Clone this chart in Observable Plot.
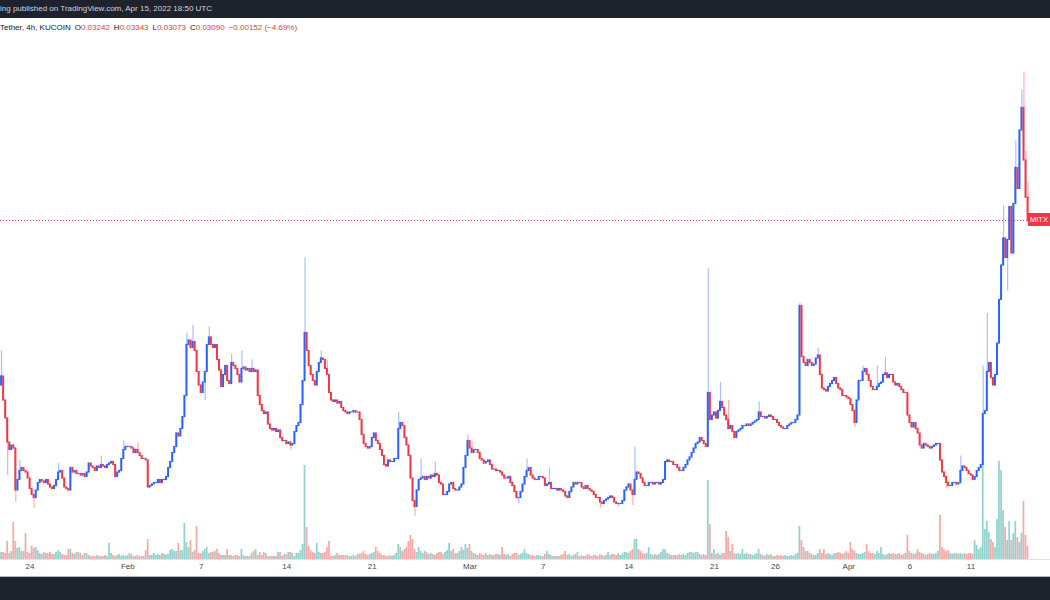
<!DOCTYPE html>
<html><head><meta charset="utf-8">
<script src="https://cdn.jsdelivr.net/npm/d3@7"></script>
<script src="https://cdn.jsdelivr.net/npm/@observablehq/plot@0.6"></script>
<style>
html,body{margin:0;padding:0;background:#fff;}
body{width:1050px;height:600px;overflow:hidden;position:relative;font-family:"Liberation Sans",Arial,sans-serif;}
#topbar{position:absolute;left:0;top:0;width:1050px;height:18px;background:#1e222d;color:#d1d4dc;font-size:8px;line-height:18px;white-space:nowrap;}
#info{position:absolute;left:0;top:22px;height:11px;font-size:8px;line-height:11px;white-space:nowrap;color:#131722;display:flex;gap:4px;}
#info .v{color:#f23645;}
#chart{position:absolute;left:0;top:18px;width:1050px;height:559px;}
#chart svg{position:absolute;left:0;top:0;}
#sep1{position:absolute;left:0;top:559px;width:1050px;height:1px;background:#e0e3eb;}
#sep2{position:absolute;left:0;top:576px;width:1050px;height:1px;background:#b2b5be;}
#bottombar{position:absolute;left:0;top:577px;width:1050px;height:23px;background:#1e222d;}
#tag{position:absolute;left:1028px;top:213px;width:22px;height:13px;box-sizing:border-box;padding-left:2px;background:#f23645;color:#fff;font-size:7.5px;line-height:13px;white-space:nowrap;}
</style></head>
<body>
<div id="topbar">ing published on TradingView.com, Apr 15, 2022 18:50 UTC</div>
<div id="info"><span>Tether, 4h, KUCOIN</span><span>O<span class="v">0.03242</span></span><span>H<span class="v">0.03343</span></span><span>L<span class="v">0.03073</span></span><span>C<span class="v">0.03090</span></span><span class="v">−0.00152 (−4.69%)</span></div>
<div id="chart"></div>
<div id="sep1"></div>
<div id="sep2"></div>
<div id="bottombar"></div>
<div id="tag">MITX</div>
<script>
// ---- data (prices in units of 0.0001 USDT, 4h candles from 2022-01-21 16:00 UTC) ----
const firstCandle = "2022-01-21T16:00Z";
const firstOpenE4 = 199;
const closeE4 = [
205,189, // Jan 21 (16h, 20h)
177,161,156,159,157,129, // Jan 22
136,142,144,142,141,137, // Jan 23
130,126,124,129,134,136, // Jan 24
135,134,136,133,131,130, // Jan 25
132,136,141,142,137,131, // Jan 26
130,129,144,141,142,140, // Jan 27
140,139,140,138,141,147, // Jan 28
145,144,142,145,144,146, // Jan 29
145,144,146,147,148,146, // Jan 30
138,141,142,150,156,158, // Jan 31
158,158,157,154,156,154, // Feb 1
152,150,150,149,131,132, // Feb 2
133,134,134,136,134,136, // Feb 3
136,138,144,148,154,158, // Feb 4
167,165,170,178,192,226, // Feb 5
229,224,228,222,208,199, // Feb 6
194,201,208,226,231,226, // Feb 7
224,226,216,209,198,206, // Feb 8
212,202,200,214,212,210, // Feb 9
206,201,210,211,209,210, // Feb 10
208,210,208,209,192,186, // Feb 11
182,180,181,173,170,169, // Feb 12
170,168,169,164,162,162, // Feb 13
160,161,159,160,168,172, // Feb 14
174,186,202,234,222,212, // Feb 15
206,202,199,208,214,217, // Feb 16
216,210,206,194,189,188, // Feb 17
189,187,188,184,182,181, // Feb 18
180,181,181,182,181,181, // Feb 19
176,166,160,158,157,158, // Feb 20
164,167,162,160,156,152, // Feb 21
146,145,149,148,148,150, // Feb 22
150,170,174,172,164,159, // Feb 23
152,137,122,118,129,136, // Feb 24
137,138,136,138,137,139, // Feb 25
138,140,139,134,133,126, // Feb 26
126,128,133,134,130,129, // Feb 27
129,131,133,144,152,162, // Feb 28
157,154,156,156,154,150, // Mar 1
149,147,148,149,146,143, // Mar 2
143,142,142,141,139,137, // Mar 3
137,138,134,132,128,124, // Mar 4
124,128,133,138,142,144, // Mar 5
139,137,136,136,138,138, // Mar 6
137,132,133,134,130,130, // Mar 7
130,129,130,129,128,125, // Mar 8
124,128,131,134,133,134, // Mar 9
134,131,130,132,130,129, // Mar 10
128,126,124,124,121,120, // Mar 11
122,123,124,125,124,121, // Mar 12
120,120,120,122,129,131, // Mar 13
133,129,126,136,141,140, // Mar 14
137,134,132,132,134,134, // Mar 15
133,134,134,133,134,136, // Mar 16
148,149,148,148,146,146, // Mar 17
144,142,142,144,146,149, // Mar 18
151,154,157,160,161,164, // Mar 19
162,160,158,194,176,179, // Mar 20
181,177,182,188,184,179, // Mar 21
176,170,172,168,164,168, // Mar 22
169,170,172,172,173,172, // Mar 23
173,174,175,176,181,178, // Mar 24
178,177,178,179,178,176, // Mar 25
176,174,172,171,170,170, // Mar 26
172,173,174,174,176,179, // Mar 27
252,218,214,212,216,214, // Mar 28
212,213,217,219,206,197, // Mar 29
196,195,198,200,202,204, // Mar 30
200,197,196,192,192,191, // Mar 31
190,186,182,174,189,202, // Apr 1
202,208,210,206,202,198, // Apr 2
196,196,198,200,201,206, // Apr 3
207,204,206,206,201,199, // Apr 4
200,198,196,194,194,179, // Apr 5
174,171,174,170,167,159, // Apr 6
157,160,159,158,157,158, // Apr 7
159,160,160,149,141,138, // Apr 8
134,132,132,134,134,133, // Apr 9
134,142,145,144,142,140, // Apr 10
139,136,138,142,144,146, // Apr 11
180,182,208,214,204,199, // Apr 12
206,227,256,279,297,284, // Apr 13
296,318,287,320,344,330, // Apr 14
369,384,349,324.2,309 // Apr 15
];
// volume (thousand MITX, estimated)
const volumeK = [
7,7,
6,18,6,8,37,18,
11,12,8,8,26,7,
6,13,11,12,9,6,
5,7,6,6,7,5,
5,7,9,7,5,4,
4,10,10,6,5,7,
7,6,4,6,6,4,
3,3,3,4,3,3,
3,4,3,16,6,4,
3,4,5,3,4,3,
4,6,5,3,3,4,
3,3,3,9,20,4,
4,6,4,5,4,6,
5,4,5,9,10,8,
8,16,9,9,36,17,
12,19,7,9,33,6,
6,8,10,12,6,7,
7,8,10,6,4,4,
4,10,4,4,3,4,
4,3,10,4,3,3,
3,6,8,10,4,7,
4,7,6,3,3,3,
3,3,7,7,3,5,
5,7,7,6,3,6,
6,9,15,94,32,13,
9,7,6,16,7,6,
6,7,12,18,3,3,
4,6,4,4,4,4,
4,3,3,4,3,5,
5,6,8,5,4,5,
6,7,12,8,6,4,
4,3,3,4,3,4,
6,15,12,8,10,12,
18,24,20,10,7,12,
8,6,8,7,5,6,
5,4,6,7,7,5,
7,9,16,8,10,6,
6,8,12,9,15,11,
15,8,6,5,4,6,
5,4,6,4,5,4,
4,5,5,4,12,5,
4,5,3,5,6,6,
4,5,6,10,6,5,
4,4,3,4,4,3,
3,5,8,5,4,3,
3,3,3,4,5,8,
4,5,3,4,5,7,
3,4,3,3,5,4,
3,4,4,3,5,4,
3,4,7,4,5,5,
4,6,4,5,7,7,
6,8,10,20,20,10,
8,6,5,6,12,5,
4,5,4,5,7,10,
10,6,5,4,4,4,
4,5,4,5,4,6,
7,7,6,7,7,5,
4,5,4,79,35,6,
10,5,6,4,6,6,
28,22,8,15,6,5,
6,5,10,5,6,5,
5,4,5,6,10,5,
4,3,5,4,5,3,
3,4,3,4,3,4,
3,3,4,3,5,6,
33,19,12,8,8,6,
5,4,4,6,10,6,
10,5,6,5,4,6,
6,7,6,5,6,8,
6,17,10,8,6,5,
5,6,7,15,8,6,
6,5,8,6,12,5,
4,5,6,5,6,5,
5,6,4,5,6,24,
8,6,5,6,10,7,
6,5,4,5,6,5,
5,6,8,44,12,10,
8,9,6,5,6,6,
5,6,5,6,5,6,
6,5,19,14,10,12,
99,30,38,27,20,17,
12,40,98,89,49,32,
19,38,19,26,38,22,
17,26,58,24,13
];
// wick extremes (units of 0.0001)
const wickTimes = ["2022-01-21T16:00Z","2022-01-22T04:00Z","2022-01-22T20:00Z","2022-01-23T04:00Z","2022-01-24T08:00Z","2022-01-26T08:00Z","2022-01-29T20:00Z","2022-01-31T16:00Z","2022-02-01T20:00Z","2022-02-05T20:00Z","2022-02-06T08:00Z","2022-02-07T08:00Z","2022-02-07T16:00Z","2022-02-09T12:00Z","2022-02-10T08:00Z","2022-02-11T04:00Z","2022-02-14T08:00Z","2022-02-15T12:00Z","2022-02-16T20:00Z","2022-02-17T08:00Z","2022-02-23T04:00Z","2022-02-24T12:00Z","2022-02-25T00:00Z","2022-02-26T04:00Z","2022-02-28T20:00Z","2022-03-01T04:00Z","2022-03-05T00:00Z","2022-03-05T16:00Z","2022-03-07T12:00Z","2022-03-11T16:00Z","2022-03-13T04:00Z","2022-03-14T08:00Z","2022-03-14T12:00Z","2022-03-20T12:00Z","2022-03-21T12:00Z","2022-03-22T04:00Z","2022-03-24T16:00Z","2022-03-28T00:00Z","2022-03-29T12:00Z","2022-04-01T12:00Z","2022-04-02T04:00Z","2022-04-03T08:00Z","2022-04-04T00:00Z","2022-04-09T00:00Z","2022-04-10T04:00Z","2022-04-12T00:00Z","2022-04-12T08:00Z","2022-04-13T16:00Z","2022-04-14T00:00Z","2022-04-14T16:00Z","2022-04-15T04:00Z","2022-04-15T08:00Z","2022-04-15T12:00Z","2022-04-15T16:00Z"];
const wickHighs = [222,null,null,149,null,147,152,162,161,234,239,null,238,220,222,216,null,284,222,216,181,null,150,148,166,162,null,150,144,null,null,null,158,277,201,189,188,254,224,null,212,212,218,null,152,212,247,319,null,362,396,408,355,334.3];
const wickLows  = [null,139,121,null,117,null,null,null,null,null,null,189,null,null,null,null,156,null,null,null,null,112,null,null,null,null,120,null,null,117,118,119,null,null,null,null,null,null,null,171,null,null,null,130,null,null,null,null,262,null,null,null,null,307.3];
const tickDates = ["2022-01-24","2022-02-01","2022-02-07","2022-02-14","2022-02-21","2022-03-01","2022-03-07","2022-03-14","2022-03-21","2022-03-26","2022-04-01","2022-04-06","2022-04-11"];
const tickLabels = ["24","Feb","7","14","21","Mar","7","14","21","26","Apr","6","11"];

// ---- build candles ----
const HOUR = 3600e3, DAY = 24*HOUR;
const t0 = Date.parse(firstCandle);
const wickMap = new Map(wickTimes.map((t,i)=>[Date.parse(t), i]));
const candles = closeE4.map((c,i)=>{
  const t = t0 + i*4*HOUR;
  const o = i===0 ? firstOpenE4 : closeE4[i-1];
  let h = Math.max(o,c), l = Math.min(o,c);
  const w = wickMap.get(t);
  if (w !== undefined) {
    if (wickHighs[w] != null) h = Math.max(h, wickHighs[w]);
    if (wickLows[w] != null) l = Math.min(l, wickLows[w]);
  }
  return {t:new Date(t), o:o/1e4, c:c/1e4, h:h/1e4, l:l/1e4, v:volumeK[i] ?? 0, up: c>=o};
});
const lastClose = closeE4[closeE4.length-1]/1e4;

// ---- scales ----
const W = 1050, H = 559, MB = 18;
const pxPerDay = 12.22, anchor = Date.parse("2022-04-11"), anchorX = 970.5;
const xDomain = [new Date(anchor - anchorX/pxPerDay*DAY), new Date(anchor + (W-anchorX)/pxPerDay*DAY)];
const priceDomain = [0.0083, 0.0443667];
const style = {background:"transparent", fontFamily:"Liberation Sans, Arial, sans-serif", overflow:"visible"};
const halfBody = 1.9*HOUR, halfVol = 1.7*HOUR;

const volPlot = Plot.plot({
  width: W, height: H, marginTop: H-MB-100, marginBottom: MB, marginLeft: 0, marginRight: 0,
  style,
  x: {type:"utc", domain: xDomain, axis: null},
  y: {domain: [0, 100], axis: null},
  color: {type: "identity"},
  marks: [
    Plot.rect(candles, {x1: d=>new Date(+d.t-halfVol), x2: d=>new Date(+d.t+halfVol), y1: 0, y2: "v",
      fill: d=>d.up ? "rgba(38,166,154,0.5)" : "rgba(239,83,80,0.5)"}),
    Plot.text(tickDates.map(d=>new Date(d)), {x: d=>d, text: (d,i)=>tickLabels[i], frameAnchor: "bottom",
      dy: 9, fontSize: 8, fill: "#434651"})
  ]
});

const pricePlot = Plot.plot({
  width: W, height: H, marginTop: 0, marginBottom: MB, marginLeft: 0, marginRight: 0,
  style,
  x: {type:"utc", domain: xDomain, axis: null},
  y: {domain: priceDomain, axis: null},
  color: {type: "identity"},
  marks: [
    Plot.ruleY([lastClose], {stroke: "#f23645", strokeDasharray: "1,2", strokeWidth: 1}),
    Plot.ruleX(candles, {x: "t", y1: "l", y2: "h", strokeWidth: 1.2,
      stroke: d=>d.up ? "rgba(41,98,255,0.4)" : "rgba(242,54,69,0.4)"}),
    Plot.rect(candles, {x1: d=>new Date(+d.t-halfBody), x2: d=>new Date(+d.t+halfBody), y1: "o", y2: "c",
      insetTop: -0.6, insetBottom: -0.6,
      fill: d=>d.up ? "#2962ff" : "#f23645"})
  ]
});

const chart = document.getElementById("chart");
chart.appendChild(volPlot);
chart.appendChild(pricePlot);
</script>
</body></html>
